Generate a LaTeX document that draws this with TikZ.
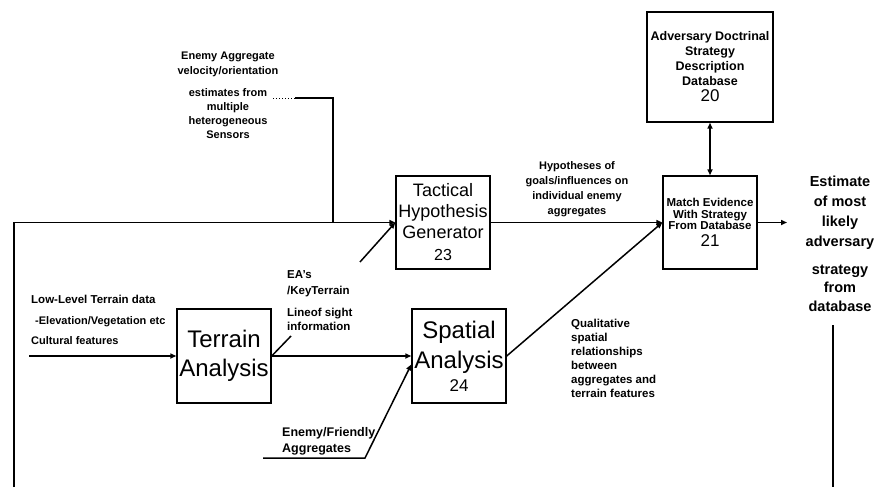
\documentclass[tikz,border=0pt]{standalone}
\usepackage{fontspec}
\setmainfont{Liberation Sans}
\usetikzlibrary{
    positioning,
    arrows.meta
}
\tikzset{
    >={Triangle[length=6pt,width=5pt]},
    block/.style={
        draw,
        line width=1.4pt,
        minimum width=94pt,
        minimum height=93pt,
        inner sep=0pt,
        align=center
    },
    lbl/.style={
        inner sep=0pt,
        font=\bfseries\fontsize{11}{14.5}\selectfont
    },
    wire/.style={line width=1.5pt}
}

\begin{document}
\begin{tikzpicture}[
    x=1pt,
    y=-1pt
]
    \useasboundingbox (0,0) rectangle (880,487);

    % Bloques
    \node[block, font=\fontsize{18}{21}\selectfont] (thg) at (443,222.5)
        {Tactical\\Hypothesis\\Generator\\[1pt]{\fontsize{16}{16}\selectfont 23}};
    \node[block, font=\bfseries\fontsize{11.5}{11.5}\selectfont] (match) at (710,222.5)
        {Match Evidence\\With Strategy\\From Database\\[4pt]{\normalfont\fontsize{17}{17}\selectfont 21}};
    \node[block, minimum width=126pt, minimum height=110pt,
          font=\bfseries\fontsize{12.5}{15}\selectfont] (db) at (710,67)
        {Adversary Doctrinal\\Strategy\\Description\\Database\\[1pt]{\normalfont\fontsize{17}{17}\selectfont 20}};
    \node[block, minimum height=94pt, font=\fontsize{24}{29}\selectfont] (terrain) at (224,356)
        {Terrain\\Analysis};
    \node[block, minimum height=94pt, font=\fontsize{24}{30}\selectfont] (spatial) at (459,356)
        {Spatial\\Analysis\\[-7pt]{\fontsize{17}{17}\selectfont 24}};

    % Etiquetas
    \node[lbl, align=center] (velLbl) at (228,64.5) {Enemy Aggregate\\velocity/orientation};
    \node[lbl, align=center, font=\bfseries\fontsize{11}{14}\selectfont] (sensLbl) at (228,114)
        {estimates from\\multiple\\heterogeneous\\Sensors};
    \node[lbl, align=center, font=\bfseries\fontsize{11}{15}\selectfont] (hypLbl) at (577,189)
        {Hypotheses of\\goals/influences on\\individual enemy\\aggregates};
    \node[lbl, align=left, anchor=west, font=\bfseries\fontsize{11.5}{14}\selectfont] (qualLbl) at (571,358)
        {Qualitative\\spatial\\relationships\\between\\aggregates and\\terrain features};
    \node[lbl, align=left, anchor=west, font=\bfseries\fontsize{11.5}{16}\selectfont] (eaLbl) at (287,284)
        {EA's\\/KeyTerrain};
    \node[lbl, align=left, anchor=west, font=\bfseries\fontsize{11.5}{14}\selectfont] (losLbl) at (287,319)
        {Lineof sight\\information};
    \node[lbl, anchor=west, font=\bfseries\fontsize{11.5}{14}\selectfont] (lowLbl) at (31,299) {Low-Level Terrain data};
    \node[lbl, anchor=west] (elevLbl) at (35,322) {-Elevation/Vegetation etc};
    \node[lbl, anchor=west] (cultLbl) at (31,341) {Cultural features};
    \node[lbl, align=left, anchor=west, font=\bfseries\fontsize{12.5}{16}\selectfont] (efLbl) at (282,441)
        {Enemy/Friendly\\Aggregates};
    \node[lbl, align=center, font=\bfseries\fontsize{14.5}{20}\selectfont] (estLbl) at (840,213)
        {Estimate\\of most\\likely\\adversary};
    \node[lbl, align=center, font=\bfseries\fontsize{14.5}{18.5}\selectfont] (stratLbl) at (840,288)
        {strategy\\from\\database};

    % Puntos auxiliares
    \coordinate (loopL)  at (14,487);
    \coordinate (sensA)  at (273,98);
    \coordinate (sensB)  at (295,98);
    \coordinate (sensC)  at (333,222.5);
    \coordinate (eaA)    at (291,336);
    \coordinate (eaB)    at (360,262);
    \coordinate (efA)    at (263,458);
    \coordinate (efB)    at (365,458);
    \coordinate (inL)    at (29,356);
    \coordinate (outR)   at (787,222.5);
    \coordinate (feedT)  at (833,325);
    \coordinate (feedB)  at (833,487);

    % Conexiones
    \draw[wire, ->] (loopL) |- (thg.west);
    \draw[line width=1pt, dotted] (sensA) -- (sensB);
    \draw[wire] (sensB) -| (sensC);
    \draw[wire] (terrain.east) -- (eaA);
    \draw[wire, ->] (eaB) -- (thg.west);
    \draw[wire, ->] (inL) -- (terrain.west);
    \draw[wire, ->] (terrain.east) -- (spatial.west);
    \draw[wire, ->] (efA) -- (efB) -- (spatial.190.8);
    \draw[wire, ->] (spatial.east) -- (match.west);
    \draw[wire, ->] (thg.east) -- (match.west);
    \draw[wire, ->] (match.east) -- (outR);
    \draw[wire, <->] (db.south) -- (match.north);
    \draw[wire] (feedT) -- (feedB);

\end{tikzpicture}
\end{document}
